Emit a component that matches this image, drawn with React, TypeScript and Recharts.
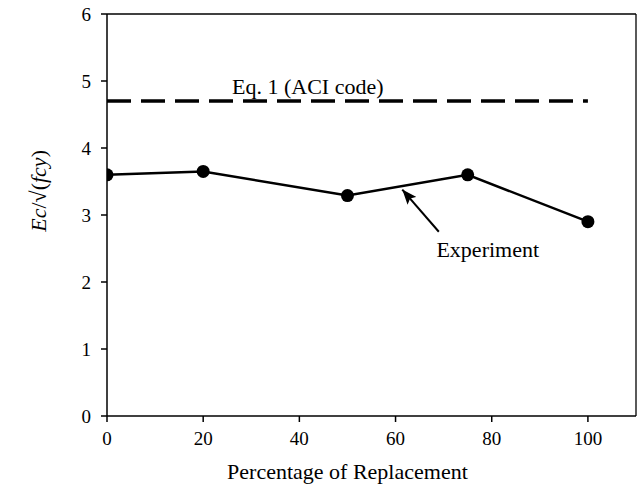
import { LineChart, Line, XAxis, YAxis, ReferenceLine, ReferenceDot } from "recharts";

const replacement = [0, 20, 50, 75, 100];
const experiment = [3.6, 3.65, 3.29, 3.6, 2.9];
const aciRange = [0, 100];
const aciValue = 4.7;
const xTicks = [0, 20, 40, 60, 80, 100];
const yTicks = [0, 1, 2, 3, 4, 5, 6];
// annotation arrow, tail -> tip, in data units
const arrowX = [69, 61.4];
const arrowY = [2.75, 3.38];

const expData = replacement.map((x, i) => ({ x, y: experiment[i] }));
const aciData = aciRange.map((x) => ({ x, y: aciValue }));
const arrowData = arrowX.map((x, i) => ({ x, y: arrowY[i] }));

const FONT = "'Liberation Serif', 'Times New Roman', serif";

const YTitle = (props: any) => {
    const { viewBox } = props;
    const cx = viewBox.x + 38;
    const cy = viewBox.y + viewBox.height * 0.44;
    return (
        <text
            x={cx}
            y={cy}
            transform={`rotate(-90, ${cx}, ${cy})`}
            textAnchor="middle"
            dominantBaseline="central"
            fontFamily={FONT}
            fontSize={22}
            fill="#000"
        >
            <tspan fontStyle="italic">Ec</tspan>
            <tspan>/√(</tspan>
            <tspan fontStyle="italic">fcy</tspan>
            <tspan>)</tspan>
        </text>
    );
};

const XTitle = (props: any) => {
    const { viewBox } = props;
    return (
        <text
            x={viewBox.x + (viewBox.width * 100) / 110 / 2}
            y={479}
            textAnchor="middle"
            fontFamily={FONT}
            fontSize={22}
            fill="#000"
        >
            Percentage of Replacement
        </text>
    );
};

const note = (label: string) => (p: any) => (
    <text x={p.cx} y={p.cy} fontFamily={FONT} fontSize={22} fill="#000">
        {label}
    </text>
);

export default function App() {
    return (
        <div style={{ position: "fixed", left: 0, top: 0, background: "#fff" }}>
            <LineChart
                width={639}
                height={489}
                margin={{ top: 14, right: 3, bottom: 0, left: 0 }}
            >
                <defs>
                    <marker
                        id="arrowHead"
                        markerUnits="userSpaceOnUse"
                        markerWidth={16}
                        markerHeight={12}
                        refX={15}
                        refY={6}
                        orient="auto"
                    >
                        <path d="M0,0 L15,6 L0,12 L3,6 z" fill="#000" />
                    </marker>
                </defs>
                <XAxis
                    type="number"
                    dataKey="x"
                    domain={[0, 110]}
                    ticks={xTicks}
                    allowDataOverflow
                    height={73}
                    tickSize={6}
                    tickMargin={10}
                    stroke="#000"
                    strokeWidth={1.5}
                    tick={{ fill: "#000", fontFamily: FONT, fontSize: 19 }}
                    label={<XTitle />}
                />
                <YAxis
                    type="number"
                    domain={[0, 6]}
                    ticks={yTicks}
                    width={107}
                    tickSize={6}
                    tickMargin={10}
                    stroke="#000"
                    strokeWidth={1.5}
                    tick={{ fill: "#000", fontFamily: FONT, fontSize: 19 }}
                    label={<YTitle />}
                />
                <ReferenceLine y={6} stroke="#000" strokeWidth={1.3} />
                <ReferenceLine x={110} stroke="#000" strokeWidth={1.3} />
                <Line
                    data={aciData}
                    dataKey="y"
                    stroke="#000"
                    strokeWidth={3.5}
                    strokeDasharray="24 10"
                    dot={false}
                    isAnimationActive={false}
                />
                <Line
                    data={expData}
                    dataKey="y"
                    stroke="#000"
                    strokeWidth={2.5}
                    dot={{ r: 6.5, fill: "#000", stroke: "#000", strokeWidth: 0 }}
                    isAnimationActive={false}
                />
                <Line
                    data={arrowData}
                    dataKey="y"
                    stroke="#000"
                    strokeWidth={2}
                    dot={false}
                    markerEnd="url(#arrowHead)"
                    isAnimationActive={false}
                />
                <ReferenceDot x={26} y={4.805} r={0} shape={note("Eq. 1 (ACI code)")} />
                <ReferenceDot x={68.5} y={2.37} r={0} shape={note("Experiment")} />
            </LineChart>
        </div>
    );
}
